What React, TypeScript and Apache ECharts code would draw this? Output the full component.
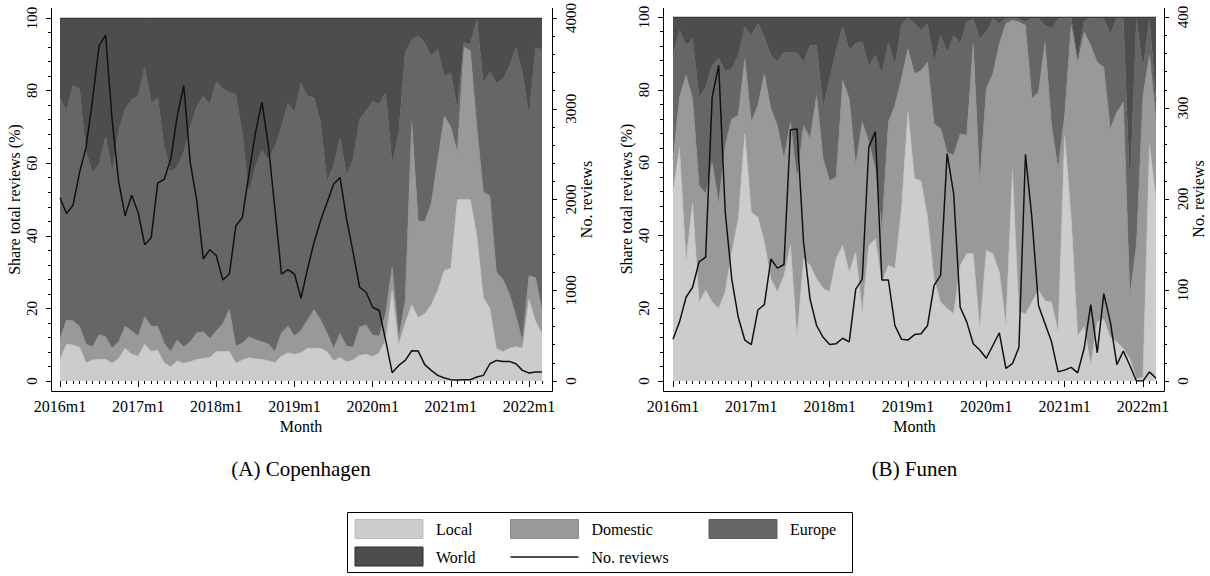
import React, { useEffect, useRef } from "react";
import * as echarts from "echarts";

const FF = '"Liberation Serif", "Times New Roman", Times, serif';

// Monthly categories 2016m1 .. 2022m3
const months: string[] = [];
for (let y = 2016; y <= 2022; y++) {
  for (let m = 1; m <= 12; m++) {
    if (y === 2022 && m > 3) break;
    months.push(`${y}m${m}`);
  }
}

// ---------- (A) Copenhagen: shares (%) ----------
const cphLocal = [6, 10.2, 9.9, 9.4, 5, 5.8, 6, 6, 4.9, 6.2, 9, 7.4, 6.9, 10.1, 8.1, 8.5, 5, 3.9, 5.6, 4.9, 5.3, 6, 6.2, 6.5, 8.1, 8.1, 8.1, 4.9, 5.8, 6.5, 6.1, 6, 5.6, 5, 6.9, 7.8, 7.4, 7.8, 9, 9, 9, 8.1, 5.6, 6.5, 5.3, 5.8, 7.1, 7.4, 6.7, 7.8, 11.3, 25, 10, 16, 21, 17.5, 18.5, 21, 25, 30.5, 31, 50, 50, 50, 40, 23, 20, 9, 8, 9, 9.5, 9, 22.5, 16.5, 13];
const cphDomestic = [5.7, 6.6, 6.7, 5.6, 5.2, 3.6, 6.8, 6.2, 4.1, 4.6, 6.1, 6.4, 5.5, 7.6, 7, 6.6, 5.3, 4.2, 5.7, 4.5, 5.5, 7.3, 7.4, 5.2, 5.7, 7.7, 11.6, 4.7, 4.7, 5.7, 5.3, 4.8, 4.6, 3.1, 6.4, 7.3, 5, 6.2, 7.8, 10.7, 7.9, 5.2, 3.4, 6.6, 4.3, 3.6, 7.8, 8, 5.9, 4.6, 7.3, 6.5, 2, 6, 50.5, 26.5, 25.5, 28, 36, 42.5, 39, 13, 42, 41, 30, 29, 31, 21, 20, 15, 8.5, 2, 6.5, 12, 6.5];
const cphEurope = [66.3, 57.7, 64.9, 65.5, 52.8, 48.1, 46.7, 55.3, 48.5, 58.2, 59.9, 63.7, 66.1, 68.8, 61.4, 62.9, 54.2, 49.4, 47.7, 53.6, 59.2, 62.2, 64.9, 64.3, 68.7, 64.7, 59.8, 69.4, 57.5, 39.3, 47.6, 52.7, 50.8, 56.4, 56.7, 61.4, 61.6, 68, 61.7, 58.3, 54.3, 41.8, 50.2, 53.9, 47.1, 51.7, 57.2, 59, 64.5, 63.8, 60.8, 28.2, 56.4, 68.4, 22.5, 51.1, 49.1, 40.5, 30.3, 11, 14.9, 11.8, 1.3, 1.7, 29.7, 30.1, 34.1, 52.1, 55.1, 62.7, 73.8, 73.9, 44, 63.3, 71.8];
const cphWorld = [22, 25.5, 18.5, 19.5, 37, 42.5, 40.5, 32.5, 42.5, 31, 25, 22.5, 21.5, 13.5, 23.5, 22, 35.5, 42.5, 41, 37, 30, 24.5, 21.5, 24, 17.5, 19.5, 20.5, 21, 32, 48.5, 41, 36.5, 39, 35.5, 30, 23.5, 26, 18, 21.5, 22, 28.8, 44.9, 40.8, 33, 43.3, 38.9, 27.9, 25.6, 22.9, 23.8, 20.6, 40.3, 31.6, 9.6, 6, 4.9, 6.9, 10.5, 8.7, 16, 15.1, 25.2, 6.7, 7.3, 0.3, 17.9, 14.9, 17.9, 16.9, 13.3, 8.2, 15.1, 27, 8.2, 8.7];
const cphReviews = [2020, 1846, 1937, 2297, 2575, 3100, 3696, 3810, 2880, 2200, 1820, 2047, 1857, 1502, 1579, 2180, 2223, 2443, 2920, 3256, 2407, 1985, 1344, 1447, 1381, 1113, 1179, 1710, 1802, 2278, 2736, 3073, 2590, 1894, 1179, 1227, 1179, 912, 1234, 1527, 1766, 1967, 2168, 2242, 1784, 1418, 1033, 978, 813, 777, 447, 92, 172, 227, 333, 330, 180, 117, 62, 33, 15, 10, 15, 15, 44, 62, 190, 227, 216, 216, 190, 117, 88, 99, 99];

// ---------- (B) Funen: shares (%) ----------
const funLocal = [52, 64, 33, 49, 21.7, 25, 21.7, 20, 24.5, 35.4, 44.6, 68, 46.4, 45, 38.2, 28.1, 24.5, 29, 37.3, 12, 33.6, 31.8, 28.1, 25.4, 24.5, 33.6, 37.3, 29.9, 35.4, 19, 37.3, 39.1, 27.2, 31.8, 30.9, 47.3, 73.9, 55.6, 55, 45, 28.1, 21.7, 19.9, 18.5, 31.8, 35, 35, 14.4, 35.9, 35, 30, 15.3, 57.9, 19, 18.5, 21.7, 25, 22, 21.7, 13.5, 67.5, 45, 12.5, 15, 4.3, 16.2, 17, 12, 10.7, 9, 6.1, 0.6, 1, 65, 50];
const funDomestic = [9, 14, 51, 28.6, 32.1, 26.5, 38.3, 29, 40.2, 36.6, 28.4, 20.6, 24.8, 30.7, 46.2, 46.7, 45.7, 32.1, 33.9, 43.6, 36.6, 34.8, 50.4, 35.7, 30.6, 22.4, 45.3, 47.7, 23.8, 52.2, 28.4, 19.2, 14.5, 39.4, 44.8, 35.8, 17.4, 28.8, 30.3, 42.6, 42.6, 47.6, 43, 43.5, 36.1, 32.5, 57.7, 40.3, 44.4, 49.4, 62.7, 82.9, 41.2, 79.6, 79.2, 55.9, 54.4, 71.1, 48.5, 44.8, 5.5, 52.7, 75.1, 80.9, 87.9, 71.4, 69.2, 57.3, 63.2, 67.6, 17.4, 36.7, 77.5, 24.5, 22];
const funEurope = [28.5, 18.3, 8.2, 16.4, 24.2, 29.3, 26.7, 39.6, 20.4, 13.8, 16.5, 8.7, 23.8, 22.5, 10.1, 14.7, 17.6, 29.3, 19, 34.6, 17.3, 25.6, 13.7, 14.2, 28, 34.8, 14.9, 13.2, 33.5, 21.9, 20.6, 31.2, 42.7, 21.9, 11, 14.6, 8.4, 13.8, 11, 10.6, 16.9, 25.7, 27.5, 33, 24.8, 31.1, 6.8, 39.3, 15.6, 15.1, 5.5, 1.5, 0.7, 0.9, 0.9, 22.1, 20.1, 4.6, 26.6, 41.2, 26.8, 2.3, 1, 3.1, 7.6, 11.9, 13.3, 26.1, 25.9, 22.9, 29.3, 62.2, 7.5, 10, 5];
const funWorld = [10.5, 3.7, 7.8, 6, 22, 19.2, 13.3, 11.4, 14.9, 14.2, 10.5, 2.7, 5, 1.8, 5.5, 10.5, 12.2, 9.6, 9.8, 9.8, 12.5, 7.8, 7.8, 24.7, 16.9, 9.2, 2.5, 9.2, 7.3, 6.9, 13.7, 10.5, 15.6, 6.9, 13.3, 2.3, 0.3, 1.8, 3.7, 1.8, 12.4, 5, 9.6, 5, 7.3, 1.4, 0.5, 6, 4.1, 0.5, 1.8, 0.3, 0.2, 0.5, 1.4, 0.3, 0.5, 2.3, 3.2, 0.5, 0.2, 0, 11.4, 1, 0.2, 0.5, 0.5, 4.6, 0.2, 0.5, 47.2, 0.5, 14, 0.5, 23];
const funReviews = [46, 65, 92, 103, 131, 136, 312, 347, 186, 112, 70, 45, 40, 78, 84, 134, 124, 128, 276, 277, 153, 90, 61, 48, 40, 41, 47, 43, 101, 112, 257, 274, 111, 111, 61, 46, 45, 51, 52, 61, 105, 116, 250, 206, 81, 65, 41, 34, 25, 39, 53, 14, 19, 37, 249, 178, 83, 63, 43, 10, 12, 15, 9, 36, 84, 31, 96, 65, 18, 33, 17, 0, 0, 10, 3];

const seriesNames = ["Local", "Domestic", "Europe", "World"];
const fills = ["#cccccc", "#999999", "#666666", "#4d4d4d"];
const edges = ["#bdbdbd", "#8c8c8c", "#5a5a5a", "#2a2a2a"];

type Panel = {
  title: string;
  shares: number[][];
  reviews: number[];
  revMax: number;
  revInterval: number;
  left: number;
  width: number;
  lOff: number;
  rOff: number;
};

const panels: Panel[] = [
  { title: "(A) Copenhagen", shares: [cphLocal, cphDomestic, cphEurope, cphWorld], reviews: cphReviews, revMax: 4000, revInterval: 1000, left: 60, width: 482, lOff: 9, rOff: 10 },
  { title: "(B) Funen", shares: [funLocal, funDomestic, funEurope, funWorld], reviews: funReviews, revMax: 400, revInterval: 100, left: 673, width: 483, lOff: 10, rOff: 8 },
];

const TOP = 17;
const HEIGHT = 364;
const AXIS_Y = 391;
const AXIS_TOP = 8;

function buildOption() {
  const grid: any[] = [];
  const xAxis: any[] = [];
  const yAxis: any[] = [];
  const series: any[] = [];
  const graphic: any[] = [];
  const txt = { color: "#000", fontFamily: FF };

  panels.forEach((p, g) => {
    grid.push({ left: p.left, top: TOP, width: p.width, height: HEIGHT, containLabel: false });
    const xMain = xAxis.length;
    xAxis.push({
      type: "category", gridIndex: g, data: months, boundaryGap: false, position: "bottom", offset: 10,
      axisLine: { show: false },
      axisTick: { show: true, interval: 0, length: 3, lineStyle: { color: "#000" } },
      axisLabel: { interval: (i: number) => i % 12 === 0, margin: 7, fontSize: 16, ...txt },
      splitLine: { show: false },
      name: "Month", nameLocation: "middle", nameGap: 26, nameTextStyle: { fontSize: 16, ...txt },
    });
    xAxis.push({
      type: "category", gridIndex: g, data: months, boundaryGap: false, position: "bottom", offset: 10,
      axisLine: { show: false },
      axisTick: { show: true, interval: (i: number) => i % 12 === 0, length: 6, lineStyle: { color: "#000" } },
      axisLabel: { show: false },
      splitLine: { show: false },
    });
    const yL = yAxis.length;
    yAxis.push({
      type: "value", gridIndex: g, position: "left", offset: p.lOff, min: 0, max: 100, interval: 20,
      axisLine: { show: false },
      axisTick: { show: true, length: 5, lineStyle: { color: "#000" } },
      minorTick: { show: true, splitNumber: 5, length: 3, lineStyle: { color: "#000" } },
      splitLine: { show: false }, minorSplitLine: { show: false },
      axisLabel: { rotate: 90, margin: 12, fontSize: 15, formatter: (v: number) => String(v), ...txt },
      name: "Share total reviews (%)", nameLocation: "middle", nameRotate: 90, nameGap: 29,
      nameTextStyle: { fontSize: 16, ...txt },
    });
    const yR = yAxis.length;
    yAxis.push({
      type: "value", gridIndex: g, position: "right", offset: p.rOff, min: 0, max: p.revMax, interval: p.revInterval,
      axisLine: { show: false },
      axisTick: { show: true, length: 5, lineStyle: { color: "#000" } },
      minorTick: { show: true, splitNumber: 5, length: 3, lineStyle: { color: "#000" } },
      splitLine: { show: false }, minorSplitLine: { show: false },
      axisLabel: { rotate: 90, margin: 11, fontSize: 15, formatter: (v: number) => String(v), ...txt },
      name: "No. reviews", nameLocation: "middle", nameRotate: 90, nameGap: 26,
      nameTextStyle: { fontSize: 16, ...txt },
    });

    p.shares.forEach((arr, k) => {
      series.push({
        name: seriesNames[k], type: "line", stack: "panel" + g, xAxisIndex: xMain, yAxisIndex: yL,
        data: arr, symbol: "none", showSymbol: false, silent: true,
        lineStyle: { width: k === 3 ? 1 : 0.6, color: edges[k] },
        areaStyle: { color: fills[k], opacity: 1 },
        itemStyle: { color: fills[k] },
        emphasis: { disabled: true },
        z: 2,
      });
    });
    series.push({
      name: "No. reviews", type: "line", xAxisIndex: xMain, yAxisIndex: yR, data: p.reviews,
      symbol: "none", showSymbol: false, silent: true,
      lineStyle: { width: 1.5, color: "#111" }, itemStyle: { color: "#111" },
      emphasis: { disabled: true }, z: 5,
    });

    // Stata-style axis lines that extend past the plot region
    const xl = p.left - p.lOff + 0.5;
    const xr = p.left + p.width + p.rOff + 0.5;
    const ln = (x1: number, y1: number, x2: number, y2: number) => ({
      type: "line", silent: true, shape: { x1, y1, x2, y2 }, style: { stroke: "#000", lineWidth: 1 }, z: 10,
    });
    graphic.push(ln(xl, AXIS_TOP, xl, AXIS_Y + 0.5));
    graphic.push(ln(xr, AXIS_TOP, xr, AXIS_Y + 0.5));
    graphic.push(ln(xl, AXIS_Y + 0.5, xr, AXIS_Y + 0.5));
    graphic.push({
      type: "text", silent: true, x: p.left + p.width / 2, y: 469,
      style: { text: p.title, fill: "#000", font: `21px ${FF}`, align: "center", verticalAlign: "middle", textAlign: "center", textVerticalAlign: "middle" },
    });
  });

  // Legend box
  graphic.push({ type: "rect", silent: true, shape: { x: 347.5, y: 512.5, width: 505, height: 60 }, style: { fill: "#fff", stroke: "#000", lineWidth: 1 } });
  const legendItems = [
    { label: "Local", x: 355, y: 519.5, k: 0 },
    { label: "Domestic", x: 510.5, y: 519.5, k: 1 },
    { label: "Europe", x: 709, y: 519.5, k: 2 },
    { label: "World", x: 355, y: 547, k: 3 },
  ];
  legendItems.forEach((it) => {
    graphic.push({ type: "rect", silent: true, shape: { x: it.x, y: it.y, width: 68, height: 19 }, style: { fill: fills[it.k], stroke: edges[it.k], lineWidth: 1 } });
    graphic.push({
      type: "text", silent: true, x: it.x + 81, y: it.y + 10,
      style: { text: it.label, fill: "#000", font: `16px ${FF}`, align: "left", verticalAlign: "middle", textAlign: "left", textVerticalAlign: "middle" },
    });
  });
  graphic.push({ type: "line", silent: true, shape: { x1: 510.5, y1: 557, x2: 578.5, y2: 557 }, style: { stroke: "#111", lineWidth: 1.5 } });
  graphic.push({
    type: "text", silent: true, x: 591.5, y: 557,
    style: { text: "No. reviews", fill: "#000", font: `16px ${FF}`, align: "left", verticalAlign: "middle", textAlign: "left", textVerticalAlign: "middle" },
  });

  return {
    animation: false,
    backgroundColor: "#fff",
    textStyle: { fontFamily: FF },
    grid, xAxis, yAxis, series, graphic,
  };
}

export default function App() {
  const ref = useRef<HTMLDivElement>(null);
  useEffect(() => {
    if (!ref.current) return;
    const chart = echarts.init(ref.current, undefined, { renderer: "svg" });
    chart.setOption(buildOption() as any);
    return () => chart.dispose();
  }, []);
  return <div ref={ref} style={{ position: "absolute", left: 0, top: 0, width: 1210, height: 576 }} />;
}
